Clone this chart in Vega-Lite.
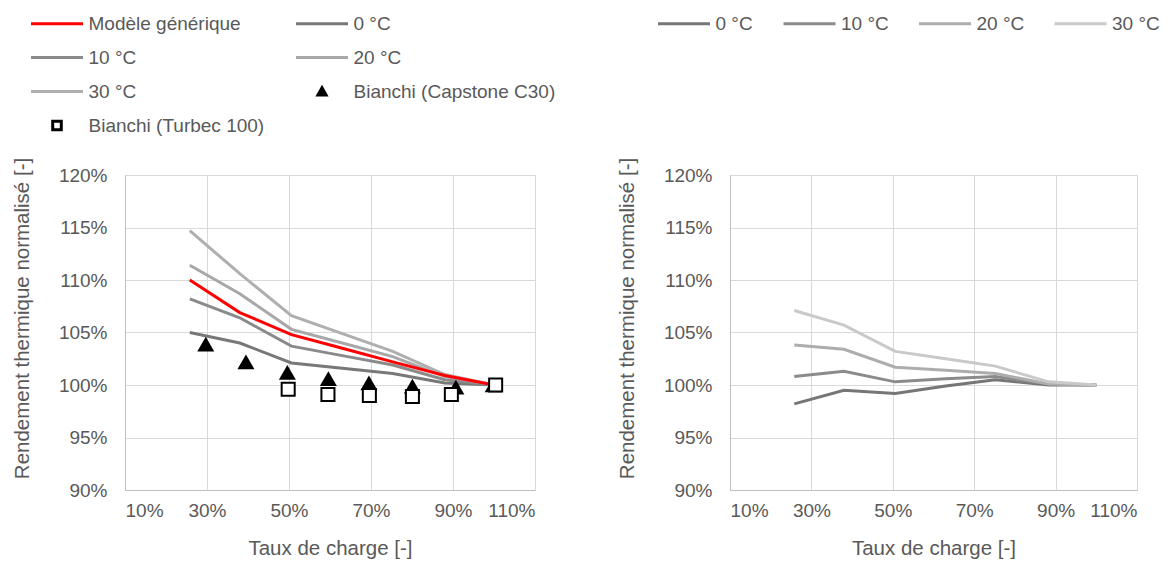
{
  "$schema": "https://vega.github.io/schema/vega-lite/v6.json",
  "background": "white",
  "padding": {"left": 12, "top": 9, "right": 5, "bottom": 5},
  "datasets": {
    "gauche": [
      {"serie": "0 °C", "charge": 0.258, "rendement": 1.050},
      {"serie": "0 °C", "charge": 0.38, "rendement": 1.040},
      {"serie": "0 °C", "charge": 0.506, "rendement": 1.021},
      {"serie": "0 °C", "charge": 0.63, "rendement": 1.016},
      {"serie": "0 °C", "charge": 0.753, "rendement": 1.011},
      {"serie": "0 °C", "charge": 0.88, "rendement": 1.002},
      {"serie": "0 °C", "charge": 1.0, "rendement": 1.000},
      {"serie": "10 °C", "charge": 0.258, "rendement": 1.082},
      {"serie": "10 °C", "charge": 0.38, "rendement": 1.064},
      {"serie": "10 °C", "charge": 0.506, "rendement": 1.037},
      {"serie": "10 °C", "charge": 0.63, "rendement": 1.028},
      {"serie": "10 °C", "charge": 0.753, "rendement": 1.019},
      {"serie": "10 °C", "charge": 0.88, "rendement": 1.005},
      {"serie": "10 °C", "charge": 1.0, "rendement": 1.000},
      {"serie": "20 °C", "charge": 0.258, "rendement": 1.114},
      {"serie": "20 °C", "charge": 0.38, "rendement": 1.087},
      {"serie": "20 °C", "charge": 0.506, "rendement": 1.053},
      {"serie": "20 °C", "charge": 0.63, "rendement": 1.040},
      {"serie": "20 °C", "charge": 0.753, "rendement": 1.027},
      {"serie": "20 °C", "charge": 0.88, "rendement": 1.008},
      {"serie": "20 °C", "charge": 1.0, "rendement": 1.000},
      {"serie": "30 °C", "charge": 0.258, "rendement": 1.147},
      {"serie": "30 °C", "charge": 0.38, "rendement": 1.106},
      {"serie": "30 °C", "charge": 0.506, "rendement": 1.066},
      {"serie": "30 °C", "charge": 0.63, "rendement": 1.049},
      {"serie": "30 °C", "charge": 0.753, "rendement": 1.032},
      {"serie": "30 °C", "charge": 0.88, "rendement": 1.010},
      {"serie": "30 °C", "charge": 1.0, "rendement": 1.000},
      {"serie": "Modèle générique", "charge": 0.258, "rendement": 1.100},
      {"serie": "Modèle générique", "charge": 0.38, "rendement": 1.069},
      {"serie": "Modèle générique", "charge": 0.506, "rendement": 1.048},
      {"serie": "Modèle générique", "charge": 0.63, "rendement": 1.035},
      {"serie": "Modèle générique", "charge": 0.753, "rendement": 1.022},
      {"serie": "Modèle générique", "charge": 0.88, "rendement": 1.009},
      {"serie": "Modèle générique", "charge": 1.0, "rendement": 1.000}
    ],
    "capstone": [
      {"charge": 0.297, "rendement": 1.039},
      {"charge": 0.395, "rendement": 1.022},
      {"charge": 0.496, "rendement": 1.012},
      {"charge": 0.596, "rendement": 1.006},
      {"charge": 0.695, "rendement": 1.002},
      {"charge": 0.801, "rendement": 0.999},
      {"charge": 0.907, "rendement": 0.998},
      {"charge": 0.998, "rendement": 1.000}
    ],
    "turbec": [
      {"charge": 0.498, "rendement": 0.996},
      {"charge": 0.595, "rendement": 0.991},
      {"charge": 0.696, "rendement": 0.990},
      {"charge": 0.801, "rendement": 0.989},
      {"charge": 0.896, "rendement": 0.991},
      {"charge": 1.004, "rendement": 1.000}
    ],
    "droite": [
      {"serie": "0 °C", "charge": 0.258, "rendement": 0.982},
      {"serie": "0 °C", "charge": 0.38, "rendement": 0.995},
      {"serie": "0 °C", "charge": 0.506, "rendement": 0.992},
      {"serie": "0 °C", "charge": 0.63, "rendement": 0.999},
      {"serie": "0 °C", "charge": 0.752, "rendement": 1.005},
      {"serie": "0 °C", "charge": 0.883, "rendement": 1.000},
      {"serie": "0 °C", "charge": 1.0, "rendement": 1.000},
      {"serie": "10 °C", "charge": 0.258, "rendement": 1.008},
      {"serie": "10 °C", "charge": 0.38, "rendement": 1.013},
      {"serie": "10 °C", "charge": 0.506, "rendement": 1.003},
      {"serie": "10 °C", "charge": 0.63, "rendement": 1.006},
      {"serie": "10 °C", "charge": 0.752, "rendement": 1.008},
      {"serie": "10 °C", "charge": 0.883, "rendement": 1.001},
      {"serie": "10 °C", "charge": 1.0, "rendement": 1.000},
      {"serie": "20 °C", "charge": 0.258, "rendement": 1.038},
      {"serie": "20 °C", "charge": 0.38, "rendement": 1.034},
      {"serie": "20 °C", "charge": 0.506, "rendement": 1.017},
      {"serie": "20 °C", "charge": 0.63, "rendement": 1.014},
      {"serie": "20 °C", "charge": 0.752, "rendement": 1.011},
      {"serie": "20 °C", "charge": 0.883, "rendement": 1.001},
      {"serie": "20 °C", "charge": 1.0, "rendement": 1.000},
      {"serie": "30 °C", "charge": 0.258, "rendement": 1.071},
      {"serie": "30 °C", "charge": 0.38, "rendement": 1.057},
      {"serie": "30 °C", "charge": 0.506, "rendement": 1.032},
      {"serie": "30 °C", "charge": 0.63, "rendement": 1.025},
      {"serie": "30 °C", "charge": 0.752, "rendement": 1.018},
      {"serie": "30 °C", "charge": 0.883, "rendement": 1.003},
      {"serie": "30 °C", "charge": 1.0, "rendement": 1.000}
    ]
  },
  "config": {
    "view": {"stroke": null},
    "font": "Liberation Sans",
    "axis": {
      "labelFont": "Liberation Sans",
      "labelFontSize": 19,
      "labelColor": "#595959",
      "titleFont": "Liberation Sans",
      "titleFontSize": 20.5,
      "titleFontWeight": "normal",
      "titleColor": "#595959",
      "ticks": false,
      "tickSize": 0,
      "gridColor": "#d9d9d9",
      "gridWidth": 1,
      "domainColor": "#bfbfbf",
      "domainWidth": 1
    },
    "axisX": {"labelPadding": 11, "titlePadding": 18},
    "axisY": {"labelPadding": 18, "titlePadding": 26, "titleY": 143},
    "legend": {
      "labelFont": "Liberation Sans",
      "labelFontSize": 19,
      "labelColor": "#595959",
      "labelLimit": 400,
      "padding": 0,
      "gridAlign": "each"
    }
  },
  "spacing": 195,
  "bounds": "flush",
  "resolve": {"scale": {"color": "independent"}, "legend": {"color": "independent"}},
  "hconcat": [
    {
      "width": 410,
      "height": 315,
      "encoding": {
        "x": {"field": "charge", "type": "quantitative", "title": "Taux de charge [-]",
              "scale": {"domain": [0.1, 1.1], "nice": false, "zero": false},
              "axis": {"values": [0.1, 0.3, 0.5, 0.7, 0.9, 1.1], "format": ".0%"}},
        "y": {"field": "rendement", "type": "quantitative", "title": "Rendement thermique normalisé [-]",
              "scale": {"domain": [0.9, 1.2], "nice": false, "zero": false},
              "axis": {"values": [0.9, 0.95, 1.0, 1.05, 1.1, 1.15, 1.2], "format": ".0%"}}
      },
      "layer": [
        {
          "data": {"name": "gauche"},
          "transform": [{"filter": "datum.serie !== 'Modèle générique'"}],
          "mark": {"type": "line", "strokeWidth": 3},
          "encoding": {
            "color": {
              "field": "serie", "type": "nominal",
              "scale": {
                "domain": ["Modèle générique", "0 °C", "10 °C", "20 °C", "30 °C", "Bianchi (Capstone C30)", "Bianchi (Turbec 100)"],
                "range": ["#ff0000", "#787878", "#8a8a8a", "#a8a8a8", "#afafaf", "#000000", "#000000"]
              },
              "legend": {
                "title": null,
                "orient": "none",
                "legendX": -94.5,
                "legendY": -166,
                "direction": "horizontal",
                "columns": 2,
                "gridAlign": "each",
                "columnPadding": 25,
                "rowPadding": 9,
                "symbolType": "M-2,0H2",
                "symbolSize": 676,
                "symbolStrokeWidth": 3,
                "symbolOffset": 12,
                "labelOffset": 17,
                "encode": {
                  "symbols": {
                    "update": {
                      "shape": {"signal": "datum.value === 'Bianchi (Capstone C30)' ? 'M0,-0.28L0.31,0.27L-0.31,0.27Z' : datum.value === 'Bianchi (Turbec 100)' ? 'M-0.33,-0.33H0.33V0.33H-0.33Z' : 'M-2,0H2'"},
                      "fill": {"signal": "datum.value === 'Bianchi (Capstone C30)' ? '#000000' : datum.value === 'Bianchi (Turbec 100)' ? '#ffffff' : 'transparent'"}
                    }
                  }
                }
              }
            }
          }
        },
        {
          "data": {"name": "gauche"},
          "transform": [{"filter": "datum.serie === 'Modèle générique'"}],
          "mark": {"type": "line", "strokeWidth": 3},
          "encoding": {
            "color": {"field": "serie", "type": "nominal"}
          }
        },
        {
          "data": {"name": "capstone"},
          "mark": {"type": "point", "shape": "triangle-up", "filled": true, "fill": "#000000", "size": 290, "opacity": 1}
        },
        {
          "data": {"name": "turbec"},
          "mark": {"type": "point", "shape": "square", "filled": true, "fill": "#ffffff", "stroke": "#000000", "strokeWidth": 2, "size": 170, "opacity": 1}
        }
      ]
    },
    {
      "width": 407,
      "height": 315,
      "data": {"name": "droite"},
      "mark": {"type": "line", "strokeWidth": 3},
      "encoding": {
        "x": {"field": "charge", "type": "quantitative", "title": "Taux de charge [-]",
              "scale": {"domain": [0.1, 1.1], "nice": false, "zero": false},
              "axis": {"values": [0.1, 0.3, 0.5, 0.7, 0.9, 1.1], "format": ".0%"}},
        "y": {"field": "rendement", "type": "quantitative", "title": "Rendement thermique normalisé [-]",
              "scale": {"domain": [0.9, 1.2], "nice": false, "zero": false},
              "axis": {"values": [0.9, 0.95, 1.0, 1.05, 1.1, 1.15, 1.2], "format": ".0%"}},
        "color": {
          "field": "serie", "type": "nominal",
          "scale": {"domain": ["0 °C", "10 °C", "20 °C", "30 °C"], "range": ["#767676", "#8b8b8b", "#adadad", "#c9c9c9"]},
          "legend": {
            "title": null,
            "orient": "none",
            "legendX": -72.5,
            "legendY": -166,
            "direction": "horizontal",
            "columns": 4,
            "gridAlign": "each",
            "columnPadding": 23.5,
            "symbolType": "M-2,0H2",
            "symbolSize": 676,
            "symbolStrokeWidth": 3,
            "symbolOffset": 12,
            "labelOffset": 17,
            "encode": {
              "symbols": {"update": {"fill": {"value": "transparent"}}}
            }
          }
        }
      }
    }
  ]
}
